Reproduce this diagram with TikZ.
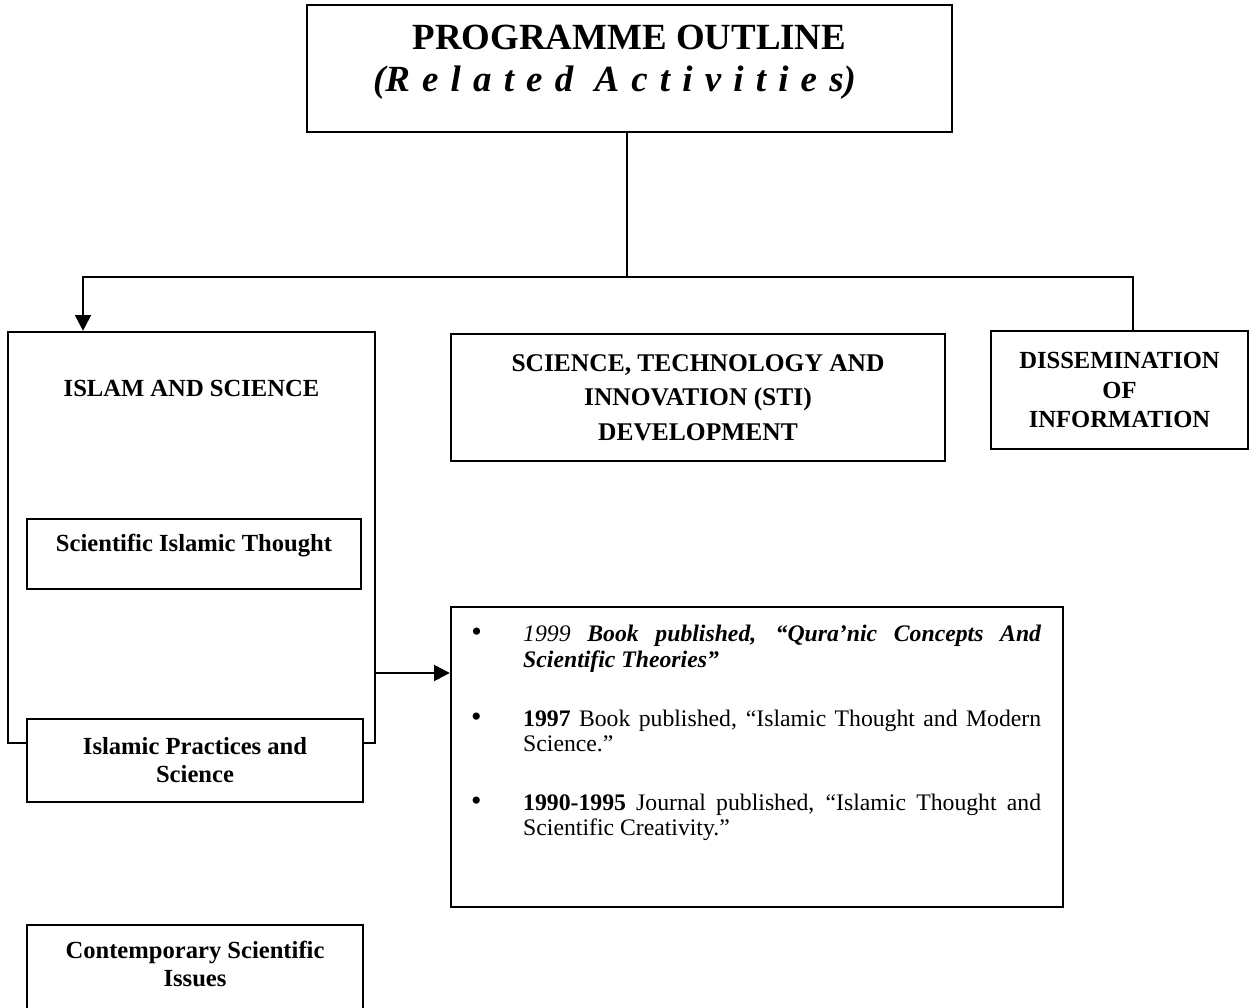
\documentclass[tikz,border=0pt]{standalone}
\usepackage{fontspec}
\setmainfont{Liberation Serif}
\newfontfamily\spacedfont[LetterSpace=33]{Liberation Serif}
\usepackage{tikz}
\usetikzlibrary{positioning, arrows.meta}

\newcommand{\pubitem}[2]{{\hangindent=1.12cm\hangafter=1\hyphenpenalty=10000\exhyphenpenalty=10000
  \makebox[1.12cm][l]{\hspace{0.08cm}{\fontsize{17}{15}\selectfont #1}}#2\par}}

\begin{document}
\begin{tikzpicture}[x=0.02cm,y=-0.02cm,>={Triangle[length=9pt,width=9pt]},
                    line width=1.4pt,
                    box/.style={rectangle,draw,fill=white,align=center,font=\fontsize{14}{16}\selectfont\bfseries},
                    plain box/.style={rectangle,draw,fill=white},
                    box text/.style={align=center,font=\fontsize{14}{16}\selectfont\bfseries}]

  \useasboundingbox (0,0) rectangle (1250,1007);
  \clip (0,0) rectangle (1250,1007);

  \node[plain box,minimum width=12.9cm,minimum height=2.54cm] (outline) at (629.5,68.5) {};
  \node[box text,font=\fontsize{21}{24}\selectfont\bfseries] (outlinelbl) at (629.5,62)
    {PROGRAMME OUTLINE\\
     {\itshape(}{\spacedfont\bfseries\itshape Related Activities}{\itshape)}\hspace*{0.6cm}};

  \node[plain box,minimum width=7.34cm,minimum height=8.22cm] (islam) at (191.5,537.5) {};
  \node[box text] (islamlbl) at (191.5,388) {ISLAM AND SCIENCE};
  \node[plain box,minimum width=6.68cm,minimum height=1.4cm] (thought) at (194,554) {};
  \node[box text] (thoughtlbl) at (194,546) {Scientific Islamic Thought};
  \node[box,minimum width=6.72cm,minimum height=1.66cm] (practices) at (195,760.5)
    {Islamic Practices and\\Science};
  \node[plain box,minimum width=6.72cm,minimum height=2.4cm] (issues) at (195,985) {};
  \node[box text] (issueslbl) at (195,964) {Contemporary Scientific\\Issues};

  \node[box,minimum width=9.88cm,minimum height=2.54cm,font=\fontsize{14.5}{19.5}\selectfont\bfseries] (sti) at (698,397.5)
    {SCIENCE, TECHNOLOGY AND\\INNOVATION (STI)\\DEVELOPMENT};
  \node[box,minimum width=5.14cm,minimum height=2.36cm,font=\fontsize{14}{17}\selectfont\bfseries] (dissem) at (1119.5,390)
    {DISSEMINATION\\OF\\INFORMATION};

  \node[plain box,minimum width=12.24cm,minimum height=6cm] (pubs) at (757,757) {};
  \node[anchor=north west,inner sep=0pt,text width=11.48cm,align=justify,font=\fontsize{13.5}{14.5}\selectfont] (publist) at (466,624)
    {\setlength{\parindent}{0pt}%
     \pubitem{\textit{\textbullet}}{\textit{1999} \textbf{\textit{Book published, “Qura’nic Concepts And Scientific Theories”}}}\vspace{19pt}
     \pubitem{\textbullet}{\textbf{1997} Book published, “Islamic Thought and Modern Science.”}\vspace{19pt}
     \pubitem{\textbullet}{\textbf{1990-1995} Journal published, “Islamic Thought and Scientific Creativity.”}};

  \coordinate (hub) at (627,277);
  \coordinate (pubarm) at (0,673);
  \draw (outline.south -| hub) -- (hub);
  \draw[->] (hub) -| ([xshift=-2.17cm]islam.north);
  \draw (hub) -| ([xshift=0.27cm]dissem.north);
  \draw[->] (islam.east |- pubarm) -- (pubs.west |- pubarm);
\end{tikzpicture}
\end{document}
